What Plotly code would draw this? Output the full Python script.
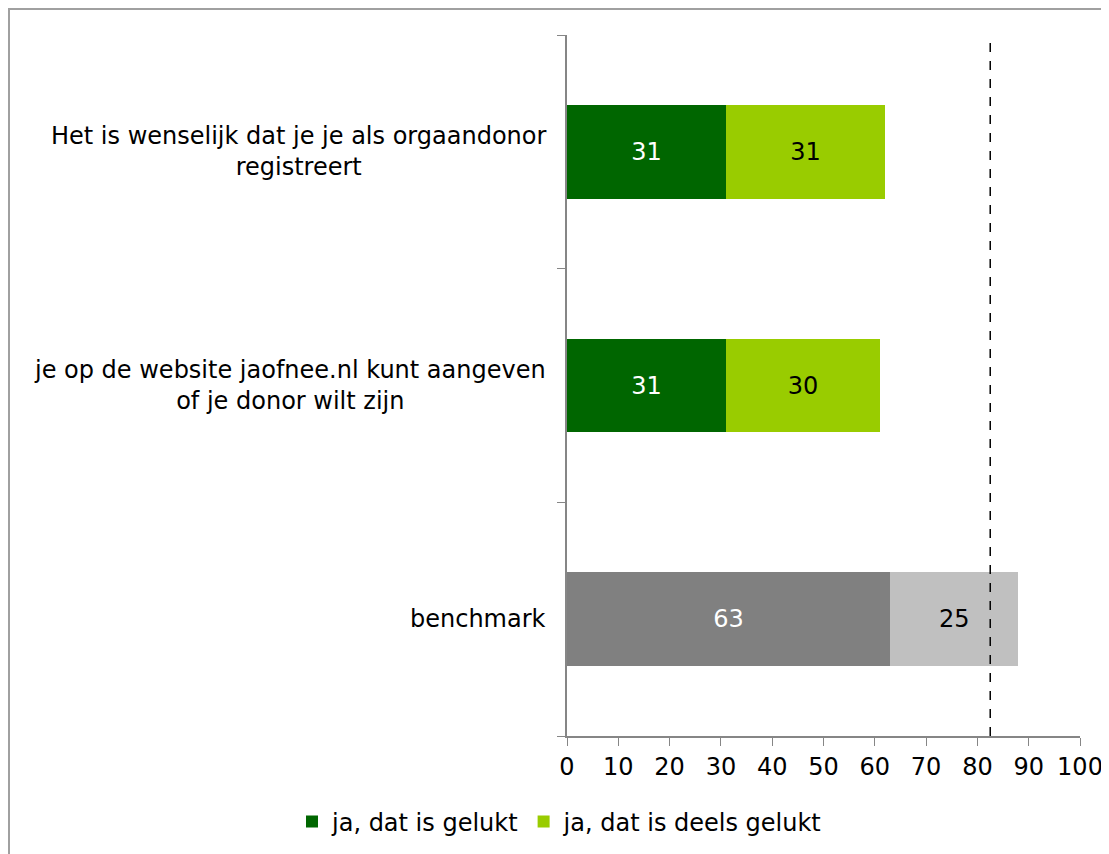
import plotly.graph_objects as go

categories = ["Het is wenselijk dat je je als orgaandonor<br>registreert",
              "je op de website jaofnee.nl kunt aangeven<br>of je donor wilt zijn",
              "benchmark"]
gelukt = [31, 31, 63]
deels_gelukt = [31, 30, 25]
benchmark_line = 82.5
x_ticks = [0, 10, 20, 30, 40, 50, 60, 70, 80, 90, 100]

FONT = "Verdana, DejaVu Sans, sans-serif"
FS = 24
OFF = 8  # page body margin
W, H = 1109 - OFF, 854 - OFF
ML, MR, MT, MB = 567 - OFF, 29, 35 - OFF, 118
pw, ph = W - ML - MR, H - MT - MB

dark_cols = ["#006600", "#006600", "#808080"]
light_cols = ["#99CC00", "#99CC00", "#C0C0C0"]

ycat = list(range(len(categories)))

fig = go.Figure()
fig.add_trace(go.Bar(
    y=ycat, x=gelukt, orientation="h", name="ja, dat is gelukt",
    marker=dict(color=dark_cols, line=dict(width=0)),
    text=[str(v) for v in gelukt], textposition="inside", insidetextanchor="middle",
    textfont=dict(color="white", size=FS, family=FONT), hoverinfo="skip",
))
fig.add_trace(go.Bar(
    y=ycat, x=deels_gelukt, orientation="h", name="ja, dat is deels gelukt",
    marker=dict(color=light_cols, line=dict(width=0)),
    text=[str(v) for v in deels_gelukt], textposition="inside", insidetextanchor="middle",
    textfont=dict(color="black", size=FS, family=FONT), hoverinfo="skip",
))

fig.add_shape(type="line", xref="x", yref="paper", x0=benchmark_line, x1=benchmark_line,
              y0=0, y1=1, line=dict(color="black", width=1.5, dash="dash"))

# outer border (left and top visible)
bx0 = (1 - ML) / pw
bx1 = (W + 10 - ML) / pw
by1 = 1 + (MT - 1) / ph
by0 = -(MB + 10) / ph
fig.add_shape(type="rect", xref="paper", yref="paper", x0=bx0, x1=bx1, y0=by0, y1=by1,
              line=dict(color="#A0A0A0", width=2), fillcolor="rgba(0,0,0,0)", layer="below")

for i, c in enumerate(categories):
    fig.add_annotation(x=0, xref="paper", y=i, yref="y", text=c, showarrow=False,
                       xanchor="right", yanchor="middle", align="center", xshift=-19,
                       font=dict(size=FS, family=FONT, color="black"))

fig.update_layout(
    barmode="stack", bargap=0.6,
    width=W, height=H,
    margin=dict(l=ML, r=MR, t=MT, b=MB, autoexpand=False),
    paper_bgcolor="white", plot_bgcolor="white",
    font=dict(family=FONT, size=FS, color="black"),
    showlegend=True,
    legend=dict(orientation="h", x=(292 - 567) / pw, xref="paper", xanchor="left",
                y=-(822 - 736) / ph, yref="paper", yanchor="middle",
                font=dict(size=FS, family=FONT), traceorder="normal", itemwidth=30,
                bgcolor="rgba(0,0,0,0)"),
)
fig.update_xaxes(range=[0, 100], tickvals=x_ticks, ticks="outside", ticklen=8, tickcolor="#868686",
                 showline=True, linecolor="#868686", linewidth=1.5, showgrid=False, zeroline=False,
                 tickfont=dict(size=FS, family=FONT))
fig.update_yaxes(range=[2.5, -0.5], tickvals=[-0.5, 0.5, 1.5, 2.5], ticktext=["", "", "", ""],
                 ticks="outside", ticklen=8, tickcolor="#868686",
                 showline=True, linecolor="#868686", linewidth=1.5, showgrid=False, zeroline=False)

fig.write_html("out.html")
